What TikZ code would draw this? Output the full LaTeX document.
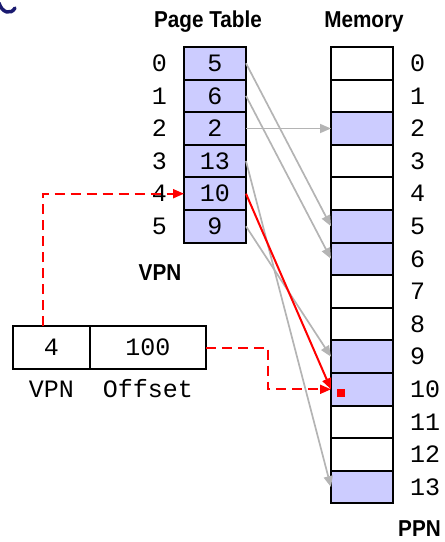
\documentclass[tikz,border=0pt]{standalone}
\usepackage{fontspec}
\setmonofont{Liberation Mono}
\newfontfamily\headfont[FakeStretch=0.9]{Liberation Sans}
\usetikzlibrary{positioning, arrows.meta}
\definecolor{slot}{HTML}{CCCCFF}
\definecolor{link}{HTML}{B4B4B4}
\definecolor{logo}{HTML}{1A1A70}
\begin{document}
\begin{tikzpicture}[x=1pt, y=-1pt, >={Triangle[length=11pt, width=9pt]}, node distance=32.6pt,
	cell/.style={draw, line width=2pt, outer sep=0pt, inner sep=0pt, minimum width=62pt, minimum height=32.6pt, font=\ttfamily\fontsize{25}{25}\selectfont},
	full/.style={cell, fill=slot},
	head/.style={font=\headfont\bfseries\fontsize{23}{23}\selectfont},
	mono/.style={font=\ttfamily\fontsize{25}{25}\selectfont},
	every label/.style={mono, inner sep=0pt}, label distance=17pt,
	grey link/.style={->, draw=link, line width=1.7pt},
	red link/.style={->, draw=red, line width=2pt},
	red dash/.style={->, draw=red, line width=2pt, dash pattern=on 10pt off 6pt}]

	\useasboundingbox (0,0) rectangle (445,542);
	\draw [logo, line width=3.5pt, line cap=round] (-1,3) .. controls (2,13) and (11,15) .. (15,8);

	\node [head] (PT) at (208,22) {Page Table};
	\node [head] (MT) at (364,22) {Memory};

	\node [full, label=left:0] (p0) at (215,63.3) {5};
	\node [full, label=left:1] (p1) [below of = p0] {6};
	\node [full, label=left:2] (p2) [below of = p1] {2};
	\node [full, label=left:3] (p3) [below of = p2] {13};
	\node [full, label=left:4] (p4) [below of = p3] {10};
	\node [full, label=left:5] (p5) [below of = p4] {9};

	\node [cell, label=right:0] (m0) at (362,63.3) {};
	\node [cell, label=right:1] (m1) [below of = m0] {};
	\node [full, label=right:2] (m2) [below of = m1] {};
	\node [cell, label=right:3] (m3) [below of = m2] {};
	\node [cell, label=right:4] (m4) [below of = m3] {};
	\node [full, label=right:5] (m5) [below of = m4] {};
	\node [full, label=right:6] (m6) [below of = m5] {};
	\node [cell, label=right:7] (m7) [below of = m6] {};
	\node [cell, label=right:8] (m8) [below of = m7] {};
	\node [full, label=right:9] (m9) [below of = m8] {};
	\node [full, label=right:10] (m10) [below of = m9] {};
	\node [cell, label=right:11] (m11) [below of = m10] {};
	\node [cell, label=right:12] (m12) [below of = m11] {};
	\node [full, label=right:13] (m13) [below of = m12] {};

	\node [head] (VT) at (160,273) {VPN};
	\node [head, anchor=east, inner sep=0pt] (PPN) at (441,529) {PPN};

	\node [cell, minimum width=77pt, minimum height=43pt] (a4) at (51.5,347.5) {4};
	\node [cell, minimum width=116pt, minimum height=43pt, right=0pt of a4] (aoff) {100};
	\node [mono] (VL) at (51.5,389) {VPN};
	\node [mono] (OL) at (148,389) {Offset};

	\node [fill=red, minimum size=8pt, inner sep=0pt] (spot) at (341,392.5) {};

	\draw [grey link] (p0.east) -- (m5.west);
	\draw [grey link] (p1.east) -- (m6.west);
	\draw [grey link] (p2.east) -- (m2.west);
	\draw [grey link] (p3.east) -- (m13.west);
	\draw [grey link] (p5.east) -- (m9.west);
	\draw [red link] (p4.east) -- (m10.west);

	\draw [red dash] ([xshift=-8.5pt]a4.north) |- (p4.west);
	\draw [red dash] (aoff.east) -- ++(62,0) |- (m10.west);

\end{tikzpicture}
\end{document}
